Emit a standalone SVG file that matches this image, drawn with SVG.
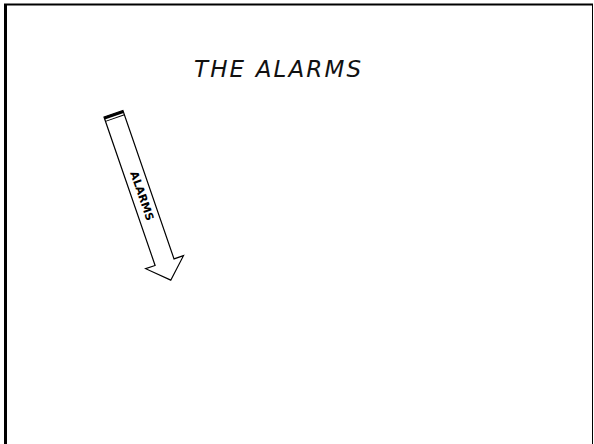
<svg xmlns="http://www.w3.org/2000/svg" width="594" height="444" viewBox="0 0 594 444">
<style>
.frame{stroke:#000;fill:none}
.arrow{fill:#fff;stroke:#000;stroke-width:1.2;stroke-linejoin:miter}
.title{font-family:"DejaVu Sans",sans-serif;font-style:italic;font-size:23px;fill:#111}
.lbl{font-family:"DejaVu Sans",sans-serif;font-weight:bold;font-size:11px;fill:#000}
</style>
<rect width="594" height="444" fill="#fff"/>
<g id="frame">
<line class="frame" x1="4" y1="4.5" x2="593" y2="4.5" stroke-width="2"/>
<line class="frame" x1="5.5" y1="4" x2="5.5" y2="444" stroke-width="3"/>
<line class="frame" x1="592.5" y1="4" x2="592.5" y2="444" stroke-width="1"/>
</g>
<g id="title">
<text class="title" x="194" y="77" textLength="167" lengthAdjust="spacing">THE ALARMS</text>
</g>
<g id="alarms-arrow" transform="translate(104,117) rotate(-19)">
<polygon class="arrow" points="0,0 20,0 20,157 30,157 10,176 -10,157 0,157"/>
<rect x="0" y="0" width="20" height="2.6" fill="#000"/>
<line x1="0" y1="4.6" x2="20" y2="4.6" stroke="#000" stroke-width="1"/>
<text class="lbl" transform="translate(10,87) rotate(90)" text-anchor="middle" dominant-baseline="central">ALARMS</text>
</g>
</svg>
